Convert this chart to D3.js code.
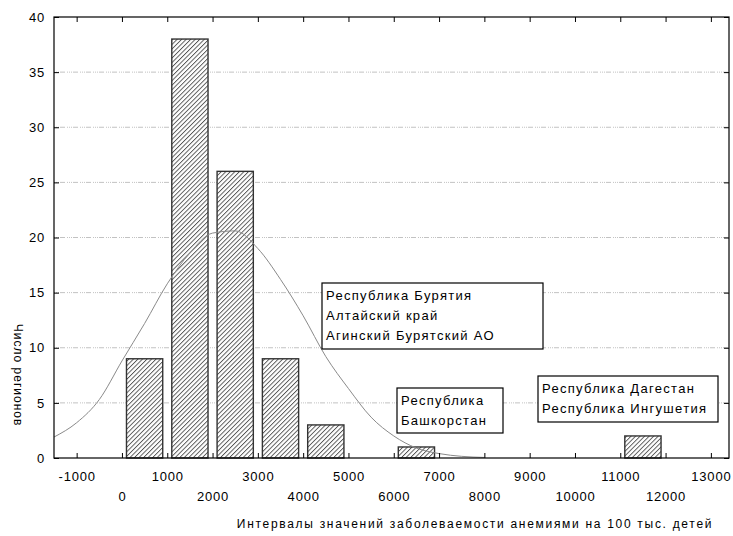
<!DOCTYPE html>
<html>
<head>
<meta charset="utf-8">
<script src="https://cdn.jsdelivr.net/npm/d3@7/dist/d3.min.js"></script>
<style>
    body { margin: 0; background: #fff; }
    svg text { font-family: Arial, "Liberation Sans", sans-serif; fill: #000; }
    .axis path { display: none; }
    .axis line { stroke: #000; }
    .axis text { font-size: 13px; letter-spacing: 0.8px; }
    .grid line { stroke: #c2c2c2; stroke-dasharray: 1,1,1,1,1,1,5,2; }
    .note rect { fill: #fff; stroke: #000; stroke-width: 1.2; }
    .note text { font-size: 13px; letter-spacing: 1.3px; }
</style>
</head>
<body>
<svg width="733" height="536"></svg>
<script>
// histogram: interval start (width 1000) and number of regions
var binStart = [0, 1000, 2000, 3000, 4000, 5000, 6000, 7000, 8000, 9000, 10000, 11000];
var binCount = [9, 38, 26, 9, 3, 0, 1, 0, 0, 0, 0, 2];
var binWidth = 1000;

// fitted normal curve
var curveX = [-1500, -1000, -500, 0, 500, 1000, 1500, 2000, 2500, 3000, 3500, 4000, 4500, 5000, 5500, 6000, 6500, 7000, 7500, 8000];
var curveY = [1.9, 3.2, 5.3, 8.8, 12.2, 15.8, 18.6, 20.4, 20.6, 19.0, 16.2, 12.9, 9.2, 6.3, 3.7, 2.0, 0.9, 0.4, 0.15, 0.05];

var xTicks = [-1000, 0, 1000, 2000, 3000, 4000, 5000, 6000, 7000, 8000, 9000, 10000, 11000, 12000, 13000];
var yTicks = [0, 5, 10, 15, 20, 25, 30, 35, 40];

var noteBuryatia = ["Республика Бурятия", "Алтайский край", "Агинский Бурятский АО"];
var noteBashkortostan = ["Республика", "Башкорстан"];
var noteDagestan = ["Республика Дагестан", "Республика Ингушетия"];

var xTitle = "Интервалы значений заболеваемости анемиями на 100 тыс. детей";
var yTitle = "Число регионов";

var margin = { top: 17, right: 4, bottom: 78, left: 54 },
    width = 733 - margin.left - margin.right,
    height = 536 - margin.top - margin.bottom;

var xScale = d3.scaleLinear().domain([-1500, 13400]).range([0, width]);
var yScale = d3.scaleLinear().domain([0, 40]).range([height, 0]);

var svg = d3.select("svg")
    .append("g")
    .attr("transform", "translate(" + margin.left + "," + margin.top + ")");

var defs = svg.append("defs");
defs.append("pattern")
    .attr("id", "hatch")
    .attr("patternUnits", "userSpaceOnUse")
    .attr("width", 3.2)
    .attr("height", 3.2)
    .attr("patternTransform", "rotate(45)")
    .call(function (p) {
        p.append("rect").attr("width", 3.2).attr("height", 3.2).attr("fill", "#fff");
        p.append("line").attr("x1", 0.5).attr("y1", 0).attr("x2", 0.5).attr("y2", 3.2)
            .attr("stroke", "#3a3a3a").attr("stroke-width", 0.8);
    });

// dotted grid lines
svg.append("g")
    .attr("class", "grid")
    .selectAll("line")
    .data(yTicks.filter(function (d) { return d > 0 && d < 40; }))
    .enter().append("line")
    .attr("x1", 0)
    .attr("x2", width)
    .attr("y1", function (d) { return yScale(d); })
    .attr("y2", function (d) { return yScale(d); });

var bins = binStart.map(function (s, i) { return { start: s, count: binCount[i] }; })
    .filter(function (d) { return d.count > 0; });

var gap = 100; // space left between bars, in data units
svg.append("g")
    .selectAll("rect")
    .data(bins)
    .enter().append("rect")
    .attr("x", function (d) { return xScale(d.start + gap); })
    .attr("y", function (d) { return yScale(d.count); })
    .attr("width", function (d) { return xScale(d.start + binWidth - gap) - xScale(d.start + gap); })
    .attr("height", function (d) { return height - yScale(d.count); })
    .attr("fill", "url(#hatch)")
    .attr("stroke", "#333")
    .attr("stroke-width", 1.4);

var line = d3.line()
    .x(function (d) { return xScale(d[0]); })
    .y(function (d) { return yScale(d[1]); })
    .curve(d3.curveMonotoneX);

svg.append("path")
    .datum(curveX.map(function (x, i) { return [x, curveY[i]]; }))
    .attr("fill", "none")
    .attr("stroke", "#8a8a8a")
    .attr("stroke-width", 1)
    .attr("d", line);

// axes, ticks pointing inward
var xAxis = svg.append("g")
    .attr("class", "axis")
    .attr("transform", "translate(0," + height + ")")
    .call(d3.axisBottom(xScale).tickValues(xTicks).tickSize(-5).tickSizeOuter(0).tickPadding(13)
        .tickFormat(function (d) { return String(d); }));
xAxis.selectAll("text")
    .attr("y", function (d) { return (d / 1000) % 2 === 0 ? 34 : 14; });

svg.append("g")
    .attr("class", "axis")
    .call(d3.axisTop(xScale).tickValues(xTicks).tickSize(-5).tickSizeOuter(0).tickFormat(""));

svg.append("g")
    .attr("class", "axis")
    .call(d3.axisLeft(yScale).tickValues(yTicks).tickSize(-5).tickSizeOuter(0).tickPadding(9));

svg.append("g")
    .attr("class", "axis")
    .attr("transform", "translate(" + width + ",0)")
    .call(d3.axisRight(yScale).tickValues(yTicks).tickSize(-5).tickSizeOuter(0).tickFormat(""));

svg.append("rect")
    .attr("width", width)
    .attr("height", height)
    .attr("fill", "none")
    .attr("stroke", "#000")
    .attr("stroke-width", 1.2);

// annotation boxes
function addNote(lines, x, y, w, h) {
    var g = svg.append("g").attr("class", "note")
        .attr("transform", "translate(" + (x - margin.left) + "," + (y - margin.top) + ")");
    g.append("rect").attr("width", w).attr("height", h);
    g.selectAll("text")
        .data(lines)
        .enter().append("text")
        .attr("x", 4)
        .attr("y", function (d, i) { return 17 + i * 20; })
        .text(function (d) { return d; });
}
addNote(noteBuryatia, 322, 283, 221, 66);
addNote(noteBashkortostan, 397, 388, 106, 45);
addNote(noteDagestan, 538, 376, 180, 46);

svg.append("text")
    .attr("x", 475 - margin.left)
    .attr("y", 528 - margin.top)
    .attr("text-anchor", "middle")
    .style("font-size", "12px")
    .style("letter-spacing", "1.7px")
    .text(xTitle);

svg.append("text")
    .attr("transform", "translate(" + (14 - margin.left) + "," + (375 - margin.top) + ") rotate(90)")
    .attr("text-anchor", "middle")
    .style("font-size", "12px")
    .style("letter-spacing", "1px")
    .text(yTitle);
</script>
</body>
</html>
